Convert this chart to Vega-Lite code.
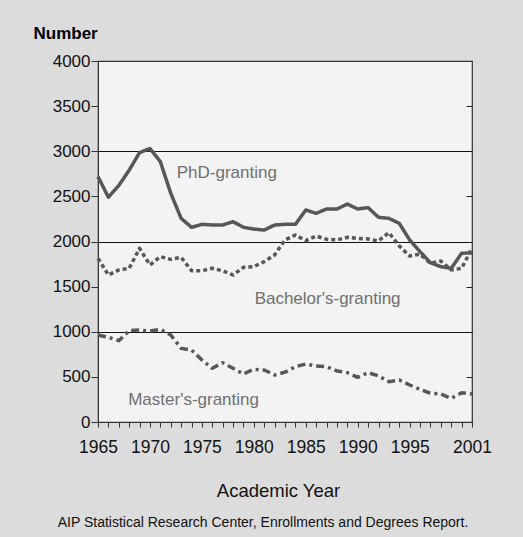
{
  "$schema": "https://vega.github.io/schema/vega-lite/v6.json",
  "autosize": "none",
  "width": 374,
  "height": 361,
  "padding": {"left": 98, "top": 61, "right": 51, "bottom": 115},
  "background": "#dcdcdc",
  "config": {
    "font": "Liberation Sans",
    "view": {"fill": "#f3f3f3", "stroke": "#333333", "strokeWidth": 1.2},
    "axisX": {"labelOverlap": false}
  },
  "title": {
    "text": "AIP Statistical Research Center, Enrollments and Degrees Report.",
    "orient": "bottom",
    "anchor": "middle",
    "fontSize": 14,
    "fontWeight": "normal",
    "color": "#111111",
    "font": "Liberation Sans",
    "offset": 16,
    "dx": -22
  },
  "datasets": {
    "series": [
      {"year": 1965, "PhD": 2720, "Bachelor": 1813, "Master": 964},
      {"year": 1966, "PhD": 2490, "Bachelor": 1629, "Master": 938},
      {"year": 1967, "PhD": 2620, "Bachelor": 1684, "Master": 901},
      {"year": 1968, "PhD": 2790, "Bachelor": 1703, "Master": 1012},
      {"year": 1969, "PhD": 2985, "Bachelor": 1924, "Master": 1019},
      {"year": 1970, "PhD": 3030, "Bachelor": 1740, "Master": 1008},
      {"year": 1971, "PhD": 2885, "Bachelor": 1832, "Master": 1027},
      {"year": 1972, "PhD": 2535, "Bachelor": 1802, "Master": 964},
      {"year": 1973, "PhD": 2257, "Bachelor": 1825, "Master": 816},
      {"year": 1974, "PhD": 2157, "Bachelor": 1677, "Master": 798},
      {"year": 1975, "PhD": 2190, "Bachelor": 1677, "Master": 687},
      {"year": 1976, "PhD": 2183, "Bachelor": 1703, "Master": 595},
      {"year": 1977, "PhD": 2183, "Bachelor": 1675, "Master": 657},
      {"year": 1978, "PhD": 2220, "Bachelor": 1629, "Master": 595},
      {"year": 1979, "PhD": 2157, "Bachelor": 1714, "Master": 532},
      {"year": 1980, "PhD": 2138, "Bachelor": 1721, "Master": 584},
      {"year": 1981, "PhD": 2127, "Bachelor": 1777, "Master": 576},
      {"year": 1982, "PhD": 2183, "Bachelor": 1851, "Master": 521},
      {"year": 1983, "PhD": 2190, "Bachelor": 2017, "Master": 552},
      {"year": 1984, "PhD": 2190, "Bachelor": 2072, "Master": 613},
      {"year": 1985, "PhD": 2349, "Bachelor": 2009, "Master": 643},
      {"year": 1986, "PhD": 2312, "Bachelor": 2061, "Master": 620},
      {"year": 1987, "PhD": 2360, "Bachelor": 2024, "Master": 613},
      {"year": 1988, "PhD": 2360, "Bachelor": 2017, "Master": 565},
      {"year": 1989, "PhD": 2415, "Bachelor": 2046, "Master": 547},
      {"year": 1990, "PhD": 2360, "Bachelor": 2035, "Master": 495},
      {"year": 1991, "PhD": 2375, "Bachelor": 2028, "Master": 547},
      {"year": 1992, "PhD": 2268, "Bachelor": 2006, "Master": 510},
      {"year": 1993, "PhD": 2257, "Bachelor": 2098, "Master": 447},
      {"year": 1994, "PhD": 2201, "Bachelor": 1950, "Master": 465},
      {"year": 1995, "PhD": 2017, "Bachelor": 1839, "Master": 410},
      {"year": 1996, "PhD": 1887, "Bachelor": 1861, "Master": 362},
      {"year": 1997, "PhD": 1765, "Bachelor": 1758, "Master": 318},
      {"year": 1998, "PhD": 1721, "Bachelor": 1784, "Master": 310},
      {"year": 1999, "PhD": 1703, "Bachelor": 1684, "Master": 262},
      {"year": 2000, "PhD": 1869, "Bachelor": 1703, "Master": 325},
      {"year": 2001, "PhD": 1876, "Bachelor": 1924, "Master": 310}
    ],
    "labels": [
      {"label": "PhD-granting", "year": 1977.4, "value": 2759},
      {"label": "Bachelor's-granting", "year": 1987.1, "value": 1363},
      {"label": "Master's-granting", "year": 1974.2, "value": 244}
    ]
  },
  "encoding": {
    "x": {
      "field": "year", "type": "quantitative",
      "scale": {"domain": [1965, 2001], "nice": false, "zero": false},
      "axis": {
        "title": "Academic Year",
        "titleFontSize": 18.5, "titleFontWeight": "normal", "titleColor": "#111111", "titlePadding": 26,
        "titleX": 180,
        "values": [1965,1966,1967,1968,1969,1970,1971,1972,1973,1974,1975,1976,1977,1978,1979,1980,1981,1982,1983,1984,1985,1986,1987,1988,1989,1990,1991,1992,1993,1994,1995,1996,1997,1998,1999,2000,2001],
        "format": "d",
        "labelExpr": "indexof([1965,1970,1975,1980,1985,1990,1995,2001], datum.value) >= 0 ? datum.label : ''",
        "labelColor": "#111111",
        "labelOverlap": false, "labelFlush": false, "labelBound": false,
        "labelFontSize": 17.5, "labelPadding": 11,
        "tickSize": 5, "tickColor": "#333333", "domainColor": "#333333",
        "grid": false
      }
    }
  },
  "layer": [
    {
      "data": {"name": "series"},
      "transform": [{"fold": ["PhD", "Bachelor", "Master"], "as": ["series", "value"]}],
      "mark": {"type": "line", "color": "#575757", "strokeWidth": 3.5, "strokeCap": "butt", "strokeJoin": "round"},
      "encoding": {
        "y": {
          "field": "value", "type": "quantitative",
          "scale": {"domain": [0, 4000], "nice": false},
          "axis": {
            "orient": "left",
            "title": "Number",
            "titleAngle": 0, "titleAlign": "left", "titleBaseline": "middle",
            "titleX": -65, "titleY": -28,
            "titleFontSize": 17, "titleFontWeight": "bold", "titleColor": "#000000",
            "values": [0,500,1000,1500,2000,2500,3000,3500,4000],
            "format": "d",
            "labelFontSize": 17, "labelColor": "#111111", "labelPadding": 1,
            "tickSize": 7, "tickColor": "#333333", "domainColor": "#333333",
            "grid": true, "gridColor": "#111111",
            "gridOpacity": {"condition": {"test": "datum.value % 1000 === 0 && datum.value > 0 && datum.value < 4000", "value": 1}, "value": 0}
          }
        },
        "strokeDash": {
          "field": "series", "type": "nominal",
          "scale": {"domain": ["PhD", "Bachelor", "Master"], "range": [[1, 0], [4, 3], [8, 4, 3, 4]]},
          "legend": null
        },
        "detail": {"field": "series"}
      }
    },
    {
      "data": {"name": "labels"},
      "mark": {"type": "text", "fontSize": 17, "color": "#707070", "align": "center", "baseline": "middle"},
      "encoding": {
        "y": {
          "field": "value", "type": "quantitative",
          "scale": {"domain": [0, 4000], "nice": false},
          "axis": {
            "orient": "right", "title": null, "labels": false, "domain": false, "grid": false,
            "values": [500, 1500, 2500, 3500], "tickSize": 6, "offset": -6, "tickColor": "#222222", "tickWidth": 1
          }
        },
        "text": {"field": "label"}
      }
    }
  ],
  "resolve": {"scale": {"y": "independent"}, "axis": {"y": "independent"}}
}
